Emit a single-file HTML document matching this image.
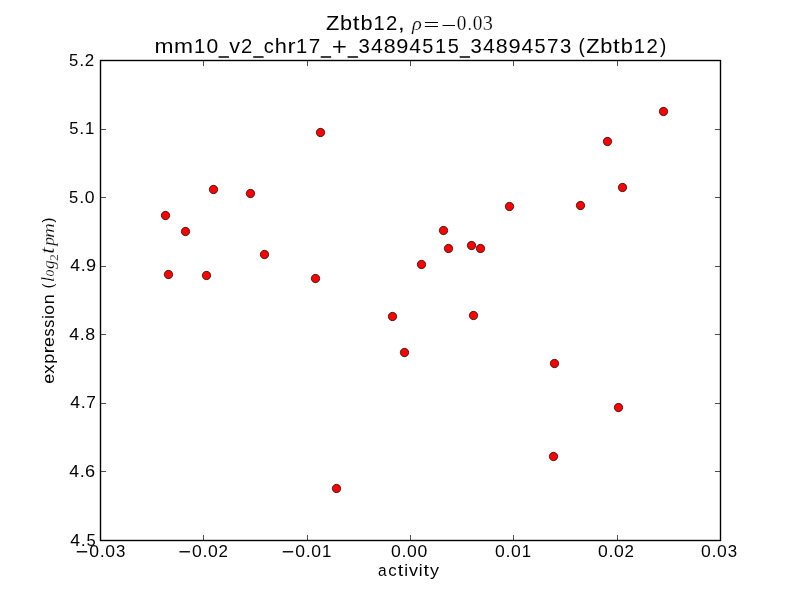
<!DOCTYPE html>
<html><head><meta charset="utf-8"><style>
html,body{margin:0;padding:0;background:#fff;width:800px;height:600px;overflow:hidden}
svg{display:block;will-change:transform}
text{fill:#000}
</style></head><body>
<svg width="800" height="600" viewBox="0 0 800 600">
<rect width="800" height="600" fill="#fff"/>
<g fill="#f00" stroke="#000" stroke-width="0.6944"><circle cx="165.5" cy="215.5" r="4.1667"/><circle cx="168.5" cy="274.5" r="4.1667"/><circle cx="185.5" cy="231.5" r="4.1667"/><circle cx="206.5" cy="275.5" r="4.1667"/><circle cx="213.5" cy="189.5" r="4.1667"/><circle cx="250.5" cy="193.5" r="4.1667"/><circle cx="264.5" cy="254.5" r="4.1667"/><circle cx="315.5" cy="278.5" r="4.1667"/><circle cx="320.5" cy="132.5" r="4.1667"/><circle cx="336.5" cy="488.5" r="4.1667"/><circle cx="392.5" cy="316.5" r="4.1667"/><circle cx="404.5" cy="352.5" r="4.1667"/><circle cx="421.5" cy="264.5" r="4.1667"/><circle cx="443.5" cy="230.5" r="4.1667"/><circle cx="448.5" cy="248.5" r="4.1667"/><circle cx="471.5" cy="245.5" r="4.1667"/><circle cx="480.5" cy="248.5" r="4.1667"/><circle cx="473.5" cy="315.5" r="4.1667"/><circle cx="509.5" cy="206.5" r="4.1667"/><circle cx="580.5" cy="205.5" r="4.1667"/><circle cx="554.5" cy="363.5" r="4.1667"/><circle cx="553.5" cy="456.5" r="4.1667"/><circle cx="607.5" cy="141.5" r="4.1667"/><circle cx="622.5" cy="187.5" r="4.1667"/><circle cx="618.5" cy="407.5" r="4.1667"/><circle cx="663.5" cy="111.5" r="4.1667"/></g>
<path d="M203.5 540.5V534.944M203.5 60.5V66.056M307.5 540.5V534.944M307.5 60.5V66.056M410.5 540.5V534.944M410.5 60.5V66.056M513.5 540.5V534.944M513.5 60.5V66.056M617.5 540.5V534.944M617.5 60.5V66.056M100.5 129.5H106.056M720.5 129.5H714.944M100.5 197.5H106.056M720.5 197.5H714.944M100.5 266.5H106.056M720.5 266.5H714.944M100.5 334.5H106.056M720.5 334.5H714.944M100.5 403.5H106.056M720.5 403.5H714.944M100.5 471.5H106.056M720.5 471.5H714.944" stroke="#000" stroke-width="0.6944" fill="none"/>
<rect x="100.5" y="60.5" width="620" height="480" fill="none" stroke="#000" stroke-width="1.3889"/>
<g id="txt" font-family="'Liberation Sans', sans-serif">
<g><text transform="matrix(1.0236 0 0 1 70.35 546.00)" font-size="17.17">4</text><text transform="matrix(1.0505 0 0 1 80.68 546.00)" font-size="17.17">.</text><text transform="matrix(0.9659 0 0 1 86.46 546.00)" font-size="17.17">5</text></g>
<g><text transform="matrix(1.0236 0 0 1 69.35 477.00)" font-size="17.17">4</text><text transform="matrix(1.0505 0 0 1 79.68 477.00)" font-size="17.17">.</text><text transform="matrix(1.0592 0 0 1 85.08 477.00)" font-size="17.17">6</text></g>
<g><text transform="matrix(1.0236 0 0 1 70.35 408.00)" font-size="17.17">4</text><text transform="matrix(1.0505 0 0 1 80.68 408.00)" font-size="17.17">.</text><text transform="matrix(1.0011 0 0 1 86.32 408.00)" font-size="17.17">7</text></g>
<g><text transform="matrix(1.0236 0 0 1 69.35 340.00)" font-size="17.17">4</text><text transform="matrix(1.0505 0 0 1 79.68 340.00)" font-size="17.17">.</text><text transform="matrix(1.0345 0 0 1 85.20 340.00)" font-size="17.17">8</text></g>
<g><text transform="matrix(1.0236 0 0 1 70.30 271.00)" font-size="17.17">4</text><text transform="matrix(1.0505 0 0 1 80.63 271.00)" font-size="17.17">.</text><text transform="matrix(1.0571 0 0 1 85.99 271.00)" font-size="17.17">9</text></g>
<g><text transform="matrix(0.9659 0 0 1 69.09 203.00)" font-size="17.17">5</text><text transform="matrix(1.0505 0 0 1 79.20 203.00)" font-size="17.17">.</text><text transform="matrix(1.0234 0 0 1 84.78 203.00)" font-size="17.17">0</text></g>
<g><text transform="matrix(0.9659 0 0 1 69.14 134.00)" font-size="17.17">5</text><text transform="matrix(1.0505 0 0 1 79.25 134.00)" font-size="17.17">.</text><text transform="matrix(0.9775 0 0 1 84.97 134.00)" font-size="17.17">1</text></g>
<g><text transform="matrix(0.9659 0 0 1 69.09 66.00)" font-size="17.17">5</text><text transform="matrix(1.0505 0 0 1 79.20 66.00)" font-size="17.17">.</text><text transform="matrix(0.9865 0 0 1 84.73 66.00)" font-size="17.17">2</text></g>
<g><text transform="matrix(1.0234 0 0 1 89.36 557.00)" font-size="17.17">0</text><text transform="matrix(1.0505 0 0 1 99.69 557.00)" font-size="17.17">.</text><text transform="matrix(1.0234 0 0 1 105.26 557.00)" font-size="17.17">0</text><text transform="matrix(0.9829 0 0 1 116.08 557.00)" font-size="17.17">3</text><path d="M76.75 551.08h10.43v1.38h-10.43z"/></g>
<g><text transform="matrix(1.0234 0 0 1 192.11 557.00)" font-size="17.17">0</text><text transform="matrix(1.0505 0 0 1 202.44 557.00)" font-size="17.17">.</text><text transform="matrix(1.0234 0 0 1 208.01 557.00)" font-size="17.17">0</text><text transform="matrix(0.9865 0 0 1 218.57 557.00)" font-size="17.17">2</text><path d="M179.50 551.08h10.43v1.38h-10.43z"/></g>
<g><text transform="matrix(1.0234 0 0 1 295.36 557.00)" font-size="17.17">0</text><text transform="matrix(1.0505 0 0 1 305.69 557.00)" font-size="17.17">.</text><text transform="matrix(1.0234 0 0 1 311.26 557.00)" font-size="17.17">0</text><text transform="matrix(0.9775 0 0 1 322.01 557.00)" font-size="17.17">1</text><path d="M282.75 551.08h10.43v1.38h-10.43z"/></g>
<g><text transform="matrix(1.0234 0 0 1 391.06 557.00)" font-size="17.17">0</text><text transform="matrix(1.0505 0 0 1 401.39 557.00)" font-size="17.17">.</text><text transform="matrix(1.0234 0 0 1 406.97 557.00)" font-size="17.17">0</text><text transform="matrix(1.0234 0 0 1 417.57 557.00)" font-size="17.17">0</text></g>
<g><text transform="matrix(1.0234 0 0 1 495.11 557.00)" font-size="17.17">0</text><text transform="matrix(1.0505 0 0 1 505.44 557.00)" font-size="17.17">.</text><text transform="matrix(1.0234 0 0 1 511.02 557.00)" font-size="17.17">0</text><text transform="matrix(0.9775 0 0 1 521.76 557.00)" font-size="17.17">1</text></g>
<g><text transform="matrix(1.0234 0 0 1 598.06 557.00)" font-size="17.17">0</text><text transform="matrix(1.0505 0 0 1 608.39 557.00)" font-size="17.17">.</text><text transform="matrix(1.0234 0 0 1 613.97 557.00)" font-size="17.17">0</text><text transform="matrix(0.9865 0 0 1 624.53 557.00)" font-size="17.17">2</text></g>
<g><text transform="matrix(1.0234 0 0 1 701.06 557.00)" font-size="17.17">0</text><text transform="matrix(1.0505 0 0 1 711.39 557.00)" font-size="17.17">.</text><text transform="matrix(1.0234 0 0 1 716.97 557.00)" font-size="17.17">0</text><text transform="matrix(0.9829 0 0 1 727.78 557.00)" font-size="17.17">3</text></g>
<g><text transform="matrix(0.9000 0 0 1 378.04 576.00)" font-size="17.17">a</text><text transform="matrix(0.9785 0 0 1 388.26 576.00)" font-size="17.17">c</text><text transform="matrix(1.1500 0 0 1 397.74 576.00)" font-size="17.17">t</text><text transform="matrix(0.9968 0 0 1 404.25 576.00)" font-size="17.17">i</text><text transform="matrix(1.0524 0 0 1 408.91 576.00)" font-size="17.17">v</text><text transform="matrix(0.9968 0 0 1 418.81 576.00)" font-size="17.17">i</text><text transform="matrix(1.1500 0 0 1 423.52 576.00)" font-size="17.17">t</text><text transform="matrix(1.0472 0 0 1 430.05 576.00)" font-size="17.17">y</text></g>
<g><text transform="matrix(1.0879 0 0 1 154.48 53.00)" font-size="21.00">m</text><text transform="matrix(1.0879 0 0 1 174.02 53.00)" font-size="21.00">m</text><text transform="matrix(0.9613 0 0 1 193.91 53.00)" font-size="21.00">1</text><text transform="matrix(1.0066 0 0 1 206.50 53.00)" font-size="21.00">0</text><text transform="matrix(1.0305 0 0 1 229.31 53.00)" font-size="21.00">v</text><text transform="matrix(0.9702 0 0 1 241.10 53.00)" font-size="21.00">2</text><text transform="matrix(0.9581 0 0 1 263.69 53.00)" font-size="21.00">c</text><text transform="matrix(1.0366 0 0 1 274.77 53.00)" font-size="21.00">h</text><text transform="matrix(1.1500 0 0 1 287.58 53.00)" font-size="21.00">r</text><text transform="matrix(0.9613 0 0 1 296.08 53.00)" font-size="21.00">1</text><text transform="matrix(0.9846 0 0 1 308.76 53.00)" font-size="21.00">7</text><text transform="matrix(0.9667 0 0 1 358.54 53.00)" font-size="21.00">3</text><text transform="matrix(1.0067 0 0 1 371.03 53.00)" font-size="21.00">4</text><text transform="matrix(1.0175 0 0 1 383.73 53.00)" font-size="21.00">8</text><text transform="matrix(1.0396 0 0 1 396.30 53.00)" font-size="21.00">9</text><text transform="matrix(1.0067 0 0 1 409.31 53.00)" font-size="21.00">4</text><text transform="matrix(0.9499 0 0 1 422.32 53.00)" font-size="21.00">5</text><text transform="matrix(0.9613 0 0 1 434.99 53.00)" font-size="21.00">1</text><text transform="matrix(0.9499 0 0 1 447.84 53.00)" font-size="21.00">5</text><text transform="matrix(0.9667 0 0 1 470.62 53.00)" font-size="21.00">3</text><text transform="matrix(1.0067 0 0 1 483.12 53.00)" font-size="21.00">4</text><text transform="matrix(1.0175 0 0 1 495.82 53.00)" font-size="21.00">8</text><text transform="matrix(1.0396 0 0 1 508.38 53.00)" font-size="21.00">9</text><text transform="matrix(1.0067 0 0 1 521.40 53.00)" font-size="21.00">4</text><text transform="matrix(0.9499 0 0 1 534.41 53.00)" font-size="21.00">5</text><text transform="matrix(0.9846 0 0 1 547.00 53.00)" font-size="21.00">7</text><text transform="matrix(0.9667 0 0 1 559.93 53.00)" font-size="21.00">3</text><text transform="matrix(0.9000 0 0 1 578.60 53.00)" font-size="21.00">(</text><text transform="matrix(1.0374 0 0 1 586.34 53.00)" font-size="21.00">Z</text><text transform="matrix(1.0388 0 0 1 600.28 53.00)" font-size="21.00">b</text><text transform="matrix(1.1500 0 0 1 613.11 53.00)" font-size="21.00">t</text><text transform="matrix(1.0388 0 0 1 620.87 53.00)" font-size="21.00">b</text><text transform="matrix(0.9613 0 0 1 633.85 53.00)" font-size="21.00">1</text><text transform="matrix(0.9702 0 0 1 646.39 53.00)" font-size="21.00">2</text><text transform="matrix(0.9000 0 0 1 659.94 53.00)" font-size="21.00">)</text><path d="M218.56 56.32h10.39v1.40h-10.39zM253.21 56.32h10.39v1.40h-10.39zM320.73 56.32h10.39v1.40h-10.39zM333.08 45.90h12.52v1.66h-12.52zM338.53 40.46h1.64v12.54h-1.64zM347.56 56.32h10.39v1.40h-10.39zM459.65 56.32h10.39v1.40h-10.39z"/></g>
<g><text transform="matrix(1.0347 0 0 1 326.11 30.00)" font-size="21.00">Z</text><text transform="matrix(1.0361 0 0 1 340.02 30.00)" font-size="21.00">b</text><text transform="matrix(1.1500 0 0 1 352.80 30.00)" font-size="21.00">t</text><text transform="matrix(1.0361 0 0 1 360.55 30.00)" font-size="21.00">b</text><text transform="matrix(0.9589 0 0 1 373.50 30.00)" font-size="21.00">1</text><text transform="matrix(0.9677 0 0 1 386.00 30.00)" font-size="21.00">2</text><text transform="matrix(1.1500 0 0 1 397.90 30.00)" font-size="21.00">,</text></g>
<text transform="matrix(0.20417 0 0 0.18691 411.92 29.77)" font-size="100" stroke="#fff" stroke-width="1.02" style="font-family:&quot;Liberation Serif&quot;" font-style="italic">ρ</text>
<text transform="matrix(0.19347 0 0 0.21191 456.86 29.99)" font-size="100" stroke="#fff" stroke-width="0.99" style="font-family:&quot;Liberation Serif&quot;">0</text>
<text transform="matrix(0.16079 0 0 0.16079 467.84 29.87)" font-size="100" stroke="#fff" stroke-width="1.24" style="font-family:&quot;Liberation Serif&quot;">.</text>
<text transform="matrix(0.19347 0 0 0.21191 472.86 29.99)" font-size="100" stroke="#fff" stroke-width="0.99" style="font-family:&quot;Liberation Serif&quot;">0</text>
<text transform="matrix(0.20335 0 0 0.21284 482.83 29.99)" font-size="100" stroke="#fff" stroke-width="0.96" style="font-family:&quot;Liberation Serif&quot;">3</text>
<path d="M424.9 22.5H438M424.9 26.5H438M442.5 25.5H455" stroke="#000" stroke-width="1.0"/>
<g transform="matrix(0 -1 1 0 54 600)"><g><text transform="matrix(1.0487 0 0 1 216.14 0.00)" font-size="17.17">e</text><text transform="matrix(1.0770 0 0 1 226.21 0.00)" font-size="17.17">x</text><text transform="matrix(1.0563 0 0 1 236.15 0.00)" font-size="17.17">p</text><text transform="matrix(1.1500 0 0 1 246.79 0.00)" font-size="17.17">r</text><text transform="matrix(1.0487 0 0 1 253.02 0.00)" font-size="17.17">e</text><text transform="matrix(0.9306 0 0 1 263.58 0.00)" font-size="17.17">s</text><text transform="matrix(0.9306 0 0 1 272.27 0.00)" font-size="17.17">s</text><text transform="matrix(0.9924 0 0 1 280.92 0.00)" font-size="17.17">i</text><text transform="matrix(1.0321 0 0 1 285.30 0.00)" font-size="17.17">o</text><text transform="matrix(1.0468 0 0 1 295.64 0.00)" font-size="17.17">n</text></g><text transform="matrix(0.18753 0 0 0.18088 318.00 -0.25)" font-size="100" stroke="#fff" stroke-width="1.09" style="font-family:&quot;Liberation Serif&quot;" font-style="italic">l</text><text transform="matrix(0.13850 0 0 0.16218 323.59 -0.16)" font-size="100" stroke="#fff" stroke-width="1.33" style="font-family:&quot;Liberation Serif&quot;" font-style="italic">o</text><text transform="matrix(0.17439 0 0 0.16969 330.99 0.19)" font-size="100" stroke="#fff" stroke-width="1.16" style="font-family:&quot;Liberation Serif&quot;" font-style="italic">g</text><text transform="matrix(0.13720 0 0 0.11932 338.90 4.10)" font-size="100" stroke="#fff" stroke-width="1.56" style="font-family:&quot;Liberation Serif&quot;">2</text><text transform="matrix(0.23237 0 0 0.20078 346.18 -0.30)" font-size="100" stroke="#fff" stroke-width="0.93" style="font-family:&quot;Liberation Serif&quot;" font-style="italic">t</text><text transform="matrix(0.17792 0 0 0.16518 354.34 0.48)" font-size="100" stroke="#fff" stroke-width="1.17" style="font-family:&quot;Liberation Serif&quot;" font-style="italic">p</text><text transform="matrix(0.20651 0 0 0.16978 361.95 0.00)" font-size="100" stroke="#fff" stroke-width="1.07" style="font-family:&quot;Liberation Serif&quot;" font-style="italic">m</text><text transform="matrix(0.14144 0 0 0.15457 311.72 -1.20)" font-size="100" style="font-family:&quot;Liberation Sans&quot;">(</text><text transform="matrix(0.14332 0 0 0.15242 377.42 -1.16)" font-size="100" style="font-family:&quot;Liberation Sans&quot;">)</text></g>
</g>
</svg>
</body></html>
